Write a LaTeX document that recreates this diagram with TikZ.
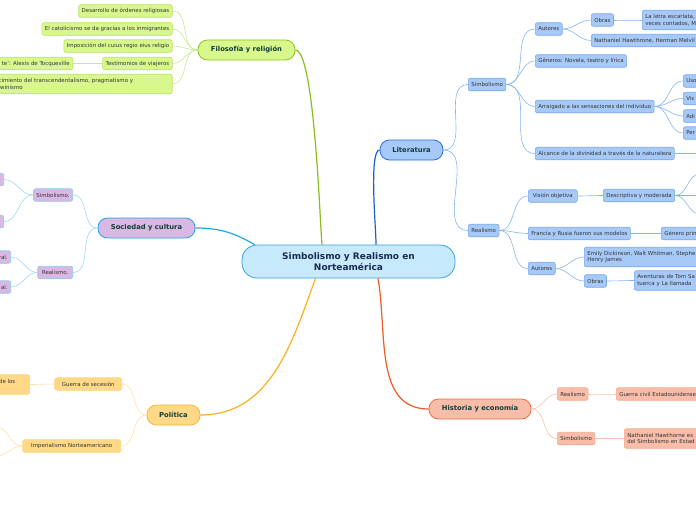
\documentclass[tikz,border=0pt]{standalone}
\usepackage{fontspec}
\setmainfont{DejaVu Sans}
\usepackage{tikz}
\usetikzlibrary{positioning,calc}

\definecolor{rootfill}{HTML}{C6EAFB}
\definecolor{rootedge}{HTML}{3FA0DD}
\definecolor{roottxt}{HTML}{1B2A55}
\definecolor{topictxt}{HTML}{133D3A}
\definecolor{subtxt}{HTML}{333333}
% literatura
\definecolor{litfill}{HTML}{A7C9F7}
\definecolor{litedge}{HTML}{2A6EE0}
\definecolor{litline}{HTML}{1A5FD0}
\definecolor{litsub}{HTML}{76A8EC}
\definecolor{litlink}{HTML}{86B4F0}
% filosofia
\definecolor{filfill}{HTML}{D8F78C}
\definecolor{filedge}{HTML}{8CC31E}
\definecolor{filline}{HTML}{8BBD1C}
\definecolor{filsub}{HTML}{B9E35F}
\definecolor{fillink}{HTML}{C8E88E}
% sociedad
\definecolor{socfill}{HTML}{D9B9E3}
\definecolor{socedge}{HTML}{1CA3E6}
\definecolor{socline}{HTML}{20A8EA}
\definecolor{socsub}{HTML}{88CDF2}
\definecolor{soclink}{HTML}{9AD8F5}
% politica
\definecolor{polfill}{HTML}{FFD988}
\definecolor{poledge}{HTML}{F5B830}
\definecolor{polline}{HTML}{F7B219}
\definecolor{polsub}{HTML}{FFD37A}
\definecolor{pollink}{HTML}{FDE2A5}
% historia
\definecolor{hisfill}{HTML}{F8BDA8}
\definecolor{hisedge}{HTML}{EF6B3F}
\definecolor{hisline}{HTML}{EF5B27}
\definecolor{hissub}{HTML}{F6A98F}
\definecolor{hislink}{HTML}{F9C1AD}

\tikzset{
  root/.style={draw=rootedge, fill=rootfill, line width=0.8pt, rounded corners=15pt,
    minimum width=213pt, minimum height=33pt, align=center, text=roottxt,
    font=\bfseries\fontsize{9}{11.5}\selectfont},
  topic/.style={line width=0.8pt, rounded corners=9.5pt, minimum height=20pt,
    text=topictxt, font=\bfseries\fontsize{6.8}{8}\selectfont},
  box/.style={line width=0.6pt, rounded corners=2pt, minimum height=12.5pt,
    inner xsep=3pt, inner ysep=1pt, text=subtxt, font=\fontsize{5.45}{6.8}\selectfont},
  litbox/.style={box, draw=litsub, fill=litfill},
  filbox/.style={box, draw=filsub, fill=filfill},
  socbox/.style={box, draw=socsub, fill=socfill},
  polbox/.style={box, draw=polsub, fill=polfill},
  hisbox/.style={box, draw=hissub, fill=hisfill},
  trunk/.style={line width=1.2pt},
  twig/.style={line width=0.6pt},
}

\begin{document}
\begin{tikzpicture}[x=1pt,y=-1pt]
\useasboundingbox (0,0) rectangle (696,520);
\clip (0,0) rectangle (696,520);

% centre
\node[root] (root) at (348.5,261.5) {Simbolismo y Realismo en\\Norteamérica};

% main topics
\node[topic, draw=litedge, fill=litfill, minimum width=63pt] (lit) at (411.5,150) {Literatura};
\node[topic, draw=filedge, fill=filfill, minimum width=97pt] (fil) at (246.5,50) {Filosofía y religión};
\node[topic, draw=socedge, fill=socfill, minimum width=97pt] (soc) at (146.5,228) {Sociedad y cultura};
\node[topic, draw=poledge, fill=polfill, minimum width=53pt] (pol) at (173.5,415) {Política};
\node[topic, draw=hisedge, fill=hisfill, minimum width=102pt] (his) at (480,409) {Historia y economía};

\draw[trunk, litline] ([xshift=27.5pt]root.north) to[out=88,in=180,looseness=0.3] (lit.west);
\draw[trunk, filline] ([xshift=-26.5pt]root.north) to[out=96,in=0,looseness=0.25] (fil.east);
\draw[trunk, socline] ([xshift=13pt]root.north west) to[out=150,in=0] (soc.east);
\draw[trunk, polline] ([xshift=-33pt]root.south) to[out=-110,in=0] (pol.east);
\draw[trunk, hisline] ([xshift=29.5pt]root.south) to[out=-80,in=180] (his.west);

% literatura
\node[litbox, anchor=west] (lsim) at (468,84.5) {Simbolismo};
\node[litbox, anchor=west] (lrea) at (468,230.5) {Realismo};
\node[litbox, anchor=west] (laut) at (535,29) {Autores};
\node[litbox, anchor=west] (lgen) at (535,61) {Géneros: Novela, teatro y lírica};
\node[litbox, anchor=west] (larr) at (535,106.5) {Arraigado a las sensaciones del individuo};
\node[litbox, anchor=west] (lalc) at (535,153.5) {Alcance de la divinidad a través de la naturaleza};
\node[litbox, anchor=west] (lobr) at (591,20) {Obras};
\node[litbox, anchor=west, text width=120pt, align=left] (lnat) at (591,40.5) {Nathaniel Hawthrone, Herman Melvil};
\node[litbox, anchor=west, text width=70pt, minimum height=19.5pt, align=left] (llet) at (642,20) {La letra escarlata,\\veces contados, M};
\node[litbox, anchor=west, text width=20pt, align=left] (luso) at (683,81) {Uso};
\node[litbox, anchor=west, text width=20pt, align=left] (lvis) at (683,98.5) {Vis};
\node[litbox, anchor=west, text width=20pt, align=left] (ladi) at (683,116) {Adi};
\node[litbox, anchor=west, text width=20pt, align=left] (lper) at (683,133) {Per};
\coordinate (lalcend) at (700,153.5);
\node[litbox, anchor=west, minimum width=49pt] (lvo) at (528,196) {Visión objetiva};
\node[litbox, anchor=west] (lfr) at (528,233.5) {Francia y Rusia fueron sus modelos};
\node[litbox, anchor=west] (lau2) at (528,268.5) {Autores};
\node[litbox, anchor=west] (ldes) at (603,195.5) {Descriptiva y moderada};
\coordinate (ldes1) at (700,174);
\coordinate (ldes2) at (700,195.5);
\coordinate (ldes3) at (700,214);
\node[litbox, anchor=west, text width=50pt, align=left] (lgpr) at (661,233.5) {Género prin};
\node[litbox, anchor=west, text width=130pt, minimum height=19.5pt, align=left] (lemi) at (584,257) {Emily Dickinson, Walt Whitman, Stephe\\Henry James};
\node[litbox, anchor=west] (lob2) at (584,281) {Obras};
\node[litbox, anchor=west, text width=80pt, minimum height=19.5pt, align=left] (lave) at (634,280.5) {Aventuras de Tom Sa\\tuerca y La llamada};

\foreach \a/\b in {lit/lsim, lit/lrea, lsim/laut, lsim/lgen, lsim/larr, lsim/lalc,
    laut/lobr, laut/lnat, lobr/llet, larr/luso, larr/lvis, larr/ladi, larr/lper,
    lrea/lvo, lrea/lfr, lrea/lau2, lvo/ldes, lfr/lgpr, lau2/lemi, lau2/lob2, lob2/lave}
  \draw[twig, litlink] (\a.east) to[out=0,in=180] (\b.west);
\draw[twig, litlink] (lalc.east) -- (lalcend);
\foreach \b in {ldes1, ldes2, ldes3}
  \draw[twig, litlink] (ldes.east) to[out=0,in=180] (\b);

% filosofia
\node[filbox, anchor=east] (fdes) at (172.5,11) {Desarrollo de órdenes religiosas};
\node[filbox, anchor=east] (fcat) at (172.5,29) {El catolicismo se da gracias a los inmigrantes};
\node[filbox, anchor=east] (fimp) at (172.5,46) {Imposición del cuius regio eius religio};
\node[filbox, anchor=east] (ftes) at (172.5,63.5) {Testimonios de viajeros};
\node[filbox, anchor=east] (ftoc) at (73,63.5) {te': Alexis de Tocqueville};
\node[filbox, anchor=east, text width=178pt, align=left, minimum height=19.5pt] (fnac) at (172.5,84)
  {Nacimiento del transcendentalismo, pragmatismo y\\darwinismo};
\foreach \b in {fdes, fcat, fimp, ftes, fnac}
  \draw[twig, fillink] (fil.west) to[out=180,in=0] (\b.east);
\draw[twig, fillink] (ftes.west) -- (ftoc.east);

% sociedad
\node[socbox, anchor=east] (ssim) at (73,195) {Simbolismo.};
\node[socbox, anchor=east, minimum width=35pt] (srea) at (73,272.5) {Realismo.};
\node[socbox, anchor=east, minimum width=40pt] (ss1) at (4,179.5) {};
\node[socbox, anchor=east, minimum width=40pt] (ss2) at (4,221.5) {};
\node[socbox, anchor=east] (sr1) at (11,257) {ral.};
\node[socbox, anchor=east] (sr2) at (11,287) {al.};
\foreach \a/\b in {soc/ssim, soc/srea, ssim/ss1, ssim/ss2, srea/sr1, srea/sr2}
  \draw[twig, soclink] (\a.west) to[out=180,in=0] (\b.east);

% politica
\node[polbox, anchor=east, minimum width=67pt] (pgue) at (122,384) {Guerra de secesión};
\node[polbox, anchor=east, minimum width=98pt] (pimp) at (121,446) {Imperialismo Norteamericano};
\node[polbox, anchor=east, minimum width=45pt, minimum height=19.5pt, align=right] (pdel) at (30,384.5) {de los\\\mbox{}};
\coordinate (pimp1) at (-4,427);
\coordinate (pimp2) at (-4,456);
\foreach \a/\b in {pol/pgue, pol/pimp, pgue/pdel}
  \draw[twig, pollink] (\a.west) to[out=180,in=0] (\b.east);
\foreach \b in {pimp1, pimp2}
  \draw[twig, pollink] (pimp.west) to[out=180,in=0] (\b);

% historia
\node[hisbox, anchor=west] (hrea) at (557,394) {Realismo};
\node[hisbox, anchor=west] (hsim) at (557,438.5) {Simbolismo};
\node[hisbox, anchor=west, text width=90pt, align=left] (hgue) at (616,394) {Guerra civil Estadounidense};
\node[hisbox, anchor=west, text width=90pt, minimum height=19.5pt, align=left] (hnat) at (624,438.5) {Nathaniel Hawthorne es\\del Simbolismo en Estad};
\foreach \a/\b in {his/hrea, his/hsim, hrea/hgue, hsim/hnat}
  \draw[twig, hislink] (\a.east) to[out=0,in=180] (\b.west);
\end{tikzpicture}
\end{document}
